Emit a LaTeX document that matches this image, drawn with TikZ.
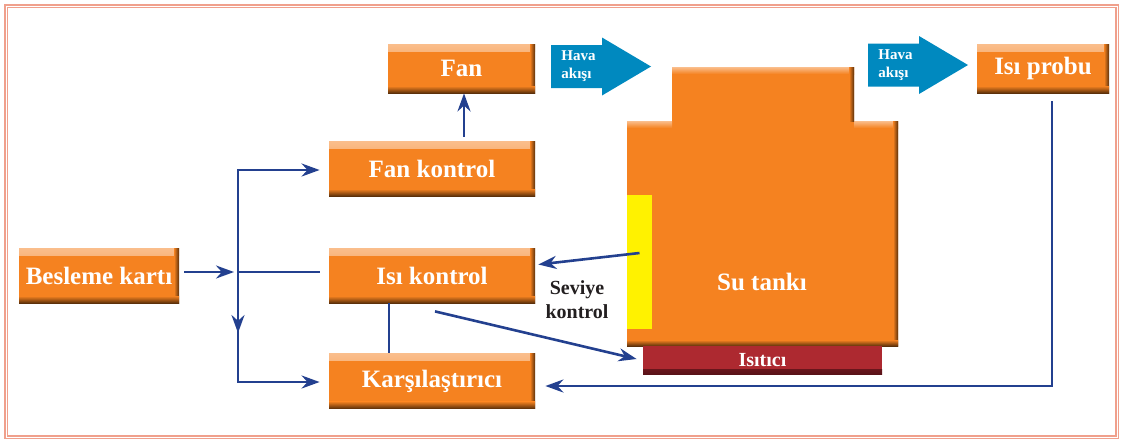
\documentclass[tikz,border=0pt]{standalone}
\usepackage{fontspec}
\setmainfont{Liberation Serif}
\usetikzlibrary{arrows.meta,calc}
\definecolor{boxOrange}{RGB}{245,130,32}
\definecolor{boxLight}{RGB}{250,190,140}
\definecolor{boxDark}{RGB}{92,48,10}
\definecolor{airBlue}{RGB}{0,137,191}
\definecolor{wireBlue}{RGB}{35,64,143}
\definecolor{heaterRed}{RGB}{173,41,48}
\definecolor{heaterDark}{RGB}{90,18,24}
\definecolor{sensorYellow}{RGB}{255,242,0}
\definecolor{frameSalmon}{RGB}{240,160,140}
\definecolor{inkDark}{RGB}{35,31,32}
\tikzset{
    blok/.style={fill=boxOrange, text=white, inner sep=0pt, minimum width=103pt, minimum height=27.5pt,
        font=\fontsize{12.5pt}{14pt}\selectfont\bfseries,
        path picture={
            \shade[top color=boxLight, bottom color=boxOrange] (path picture bounding box.north west) rectangle ([yshift=-3.5pt]path picture bounding box.north east);
            \shade[left color=boxOrange, right color=boxDark] ([xshift=-2.5pt]path picture bounding box.south east) rectangle (path picture bounding box.north east);
            \shade[top color=boxOrange, bottom color=boxDark] ([yshift=3.5pt]path picture bounding box.south west) rectangle (path picture bounding box.south east);
        }},
    heater/.style={fill=heaterRed, text=white, inner sep=0pt, minimum width=119.5pt, minimum height=14pt,
        font=\fontsize{10pt}{12pt}\selectfont\bfseries,
        path picture={
            \shade[top color=heaterRed, bottom color=heaterDark] ([yshift=2.5pt]path picture bounding box.south west) rectangle (path picture bounding box.south east);
        }},
    hava/.style={text=white, align=left, inner sep=0pt, font=\fontsize{7.5pt}{9pt}\selectfont\bfseries},
    wire/.style={draw=wireBlue, line width=1.3pt},
    flow/.style={wire, -{Stealth[length=9pt,width=6.5pt]}}
}
\begin{document}
\begin{tikzpicture}[x=0.5pt, y=-0.5pt]
    \useasboundingbox (0,0) rectangle (1122,440);
    \draw[frameSalmon, line width=0.9pt, double=white, double distance=0.5pt] (6,6) rectangle (1117,437);

    \fill[boxOrange] (627,121) -- (672,121) -- (672,67) -- (854,67) -- (854,121) -- (898,121) -- (898,346) -- (627,346) -- cycle;
    \shade[top color=boxLight, bottom color=boxOrange] (672,67) rectangle (854,74);
    \shade[top color=boxLight, bottom color=boxOrange] (627,121) rectangle (672,128);
    \shade[top color=boxLight, bottom color=boxOrange] (854,121) rectangle (898,128);
    \shade[left color=boxOrange, right color=boxDark] (849,67) rectangle (854,121);
    \shade[left color=boxOrange, right color=boxDark] (893,121) rectangle (898,346);
    \shade[top color=boxOrange, bottom color=boxDark] (627,340) rectangle (898,346);
    \node[text=white, font=\fontsize{12.5pt}{14pt}\selectfont\bfseries] (tank) at (762,282) {Su tankı};
    \node[fill=sensorYellow, inner sep=0pt, minimum width=12.5pt, minimum height=67pt] (seviye) at (639.5,262) {};
    \node[heater] (isitici) at (762.5,360) {Isıtıcı};

    \node[blok, minimum width=73.5pt, minimum height=24.5pt] (fan) at (461.5,68.5) {Fan};
    \node[blok] (fankontrol) at (432,168.5) {Fan kontrol};
    \node[blok] (isikontrol) at (432,275.5) {Isı kontrol};
    \node[blok] (karsi) at (432,381) {Karşılaştırıcı};
    \node[blok, minimum width=80pt] (besleme) at (99,275.5) {Besleme kartı};
    \node[blok, minimum width=66pt, minimum height=24.5pt] (isiprobu) at (1043,68.5) {Isı probu};

    \foreach \ax/\ay/\nm in {551/66.5/havaA, 868/65/havaB} {
        \fill[airBlue] (\ax,\ay-21.5) -- ++(51,0) -- ++(0,-7.5) -- (\ax+100,\ay) -- (\ax+51,\ay+29) -- ++(0,-7.5) -- (\ax,\ay+21.5) -- cycle;
        \node[hava, anchor=west] (\nm) at (\ax+10,\ay) {Hava\\akışı};
    }

    \node[align=center, text=inkDark, font=\fontsize{10pt}{12pt}\selectfont\bfseries] (sevlbl) at (577,300) {Seviye\\kontrol};

    \coordinate (split) at (238,272);
    \draw[flow, shorten >=2pt] ($(besleme.east)+(5,-3.5)$) -- (split);
    \draw[wire] (split) -- ($(isikontrol.west)+(-9,-3.5)$);
    \draw[flow] (split) |- ($(fankontrol.west)+(-9,1.5)$);
    \draw[flow] (split) -- ++(0,61);
    \draw[flow] (split) |- ($(karsi.west)+(-9,1)$);
    \draw[flow] ($(fankontrol.north)+(32,-4)$) -- ($(fan.south)+(2.5,0)$);
    \draw[wire] ($(isikontrol.south)+(-43,0)$) -- ($(karsi.north)+(-43,0)$);
    \draw[flow] ($(isikontrol.south)+(3,8)$) -- ($(isitici.west)+(-6,-1)$);
    \draw[flow] ($(seviye.center)+(0,-9)$) -- ($(isikontrol.east)+(3,-11)$);
    \draw[flow] ($(isiprobu.south)+(9,8)$) |- ($(karsi.east)+(10,5)$);
\end{tikzpicture}
\end{document}
